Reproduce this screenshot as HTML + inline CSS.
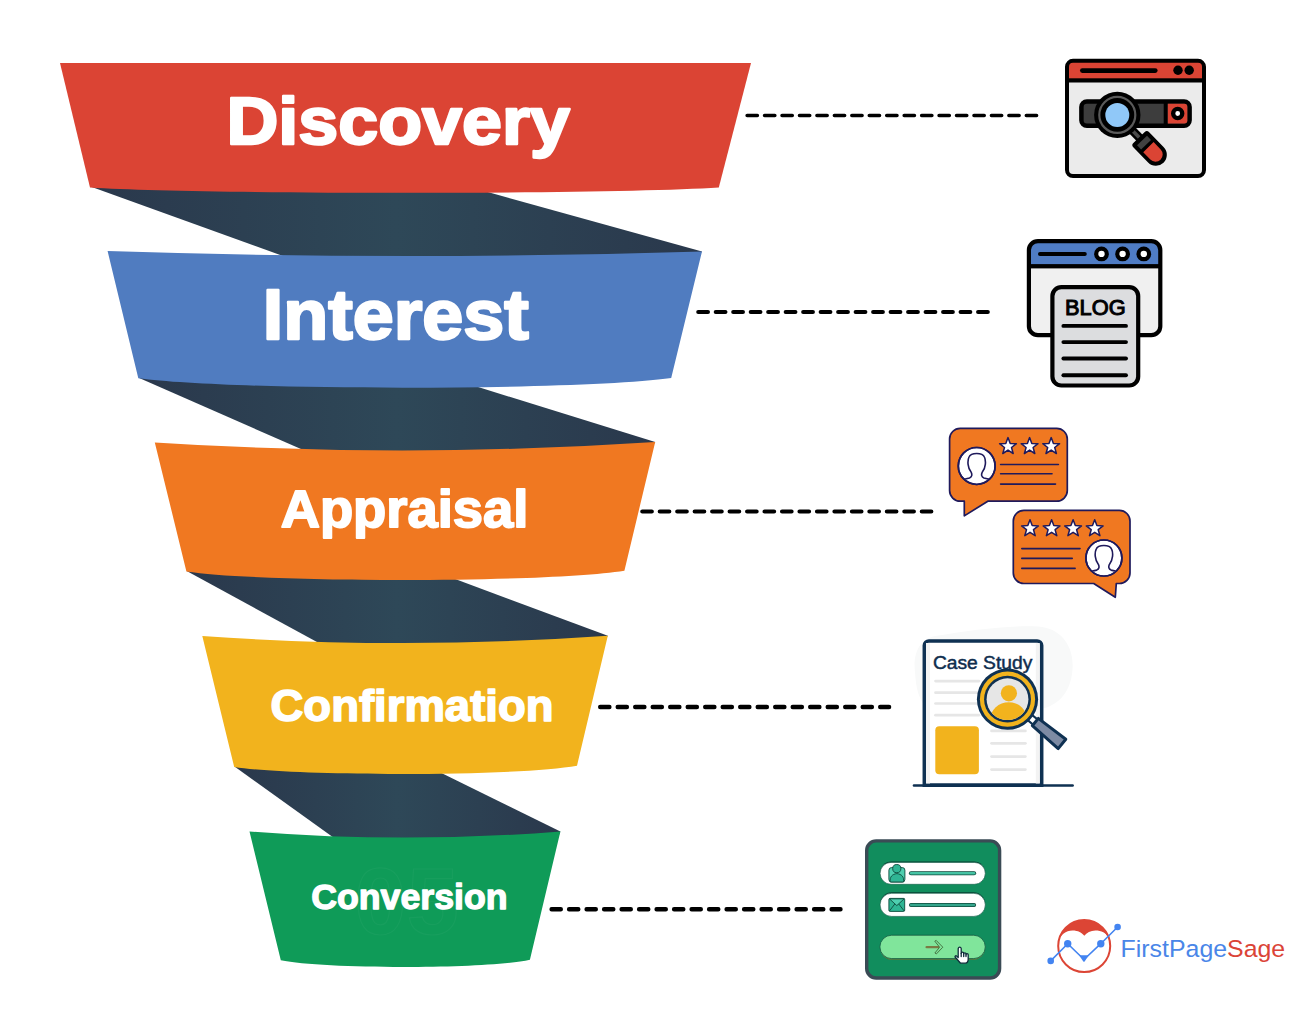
<!DOCTYPE html>
<html lang="en">
<head>
<meta charset="utf-8">
<title>Marketing Funnel Stages</title>
<style>
  html, body { margin: 0; padding: 0; background: #ffffff; }
  body { width: 1300px; height: 1020px; overflow: hidden; }
  svg { display: block; }
  text { font-family: "Liberation Sans", sans-serif; }
  .band { font-weight: 700; fill: #ffffff; text-anchor: middle; }
  .dash { stroke: #000000; stroke-width: 4.4; stroke-linecap: round; stroke-dasharray: 9.2 8.3; fill: none; }
</style>
</head>
<body>
<svg width="1300" height="1020" viewBox="0 0 1300 1020">
  <defs>
    <linearGradient id="dk" x1="0" y1="0" x2="1" y2="0">
      <stop offset="0" stop-color="#2a384c"/>
      <stop offset="0.5" stop-color="#2e4858"/>
      <stop offset="1" stop-color="#2a384c"/>
    </linearGradient>
    <polygon id="star" points="0.0,-8.8 2.2,-3.0 8.4,-2.7 3.5,1.1 5.2,7.1 0.0,3.7 -5.2,7.1 -3.5,1.1 -8.4,-2.7 -2.2,-3.0"/>
  </defs>

  <!-- ============ FUNNEL ============ -->
  <g id="funnel">
    <!-- dark folds -->
    <polygon fill="url(#dk)" points="90.4,186.6 468,186.6 702,251.4 692,264 301,262.5"/>
    <polygon fill="url(#dk)" points="138.6,377.8 448.6,377.8 655.2,442 646,456 317,456"/>
    <polygon fill="url(#dk)" points="186.7,571 433.7,571 607.8,635.8 600,648 328,648"/>
    <polygon fill="url(#dk)" points="234.5,766.6 428.2,766.6 560.4,831.4 556,842 339.7,842"/>

    <!-- colour bands -->
    <path fill="#db4434" d="M60,63 L751,63 L718.8,187.5 C608.8,194.6 200,194.6 90,187.5 Z"/>
    <path fill="#507cc0" d="M107.6,251.1 Q404.8,260.8 702,251.4 L671.2,378 C578.2,390.9 231.3,390.9 138.3,378.3 Z"/>
    <path fill="#f07821" d="M154.8,442.4 Q405,458.6 655.2,442 L624.4,570.7 C547.4,583 263.4,583 186.4,571.4 Z"/>
    <path fill="#f2b31d" d="M202.3,636 Q405,650.1 607.8,635.8 L577,765.7 C517,776.5 294.2,776.5 234.2,767 Z"/>
    <path fill="#0f9b58" d="M249.5,831.4 Q405,843.8 560.4,831.4 L529.9,959.8 C485.9,969.3 324.8,969.3 280.8,960.3 Z"/>

    <text x="406.5" y="934" font-size="94" font-weight="700" text-anchor="middle" fill="none" stroke="#ffffff" stroke-opacity="0.035" stroke-width="1.2">05</text>
    <!-- labels -->
    <g stroke="#ffffff" stroke-linejoin="round" paint-order="stroke fill">
    <text class="band" x="398.2" y="143.6" font-size="67" stroke-width="2.4" textLength="343.4" lengthAdjust="spacingAndGlyphs">Discovery</text>
    <text class="band" x="395.8" y="338.8" font-size="69.8" stroke-width="2.4" textLength="266.2" lengthAdjust="spacingAndGlyphs">Interest</text>
    <text class="band" x="404.5" y="526.6" font-size="51" stroke-width="1.8" textLength="247.6" lengthAdjust="spacingAndGlyphs">Appraisal</text>
    <text class="band" x="412" y="720.5" font-size="44.5" stroke-width="1.6" textLength="283" lengthAdjust="spacingAndGlyphs">Confirmation</text>
    <text class="band" x="409.4" y="909.4" font-size="35.5" stroke-width="1.3" textLength="196.4" lengthAdjust="spacingAndGlyphs">Conversion</text>
    </g>
  </g>

  <!-- ============ DASHED CONNECTORS ============ -->
  <g id="connectors">
    <line class="dash" x1="747.1" y1="115.4" x2="1037" y2="115.4" style="stroke-width:3.5;stroke-dasharray:10.3 7.15"/>
    <line class="dash" x1="698.2" y1="312" x2="988" y2="312" style="stroke-width:4;stroke-dasharray:9.8 7.69"/>
    <line class="dash" x1="642.3" y1="511.5" x2="931.3" y2="511.5" style="stroke-width:4.2;stroke-dasharray:9.5 7.97"/>
    <line class="dash" x1="600.2" y1="707" x2="889.1" y2="707"/>
    <line class="dash" x1="551.6" y1="909.3" x2="840.5" y2="909.3"/>
  </g>

  <!-- ============ ICON 1 : browser search ============ -->
  <g id="icon-discovery">
    <clipPath id="c1"><rect x="1067" y="60.8" width="137" height="115.2" rx="6"/></clipPath>
    <g clip-path="url(#c1)">
      <rect x="1060" y="55" width="150" height="26" fill="#db4434"/>
      <rect x="1060" y="80.4" width="150" height="100" fill="#ebebeb"/>
      <rect x="1060" y="78.3" width="150" height="4.2" fill="#000"/>
    </g>
    <rect x="1067" y="60.8" width="137" height="115.2" rx="6" fill="none" stroke="#000" stroke-width="4"/>
    <line x1="1082.3" y1="70.6" x2="1155.3" y2="70.6" stroke="#000" stroke-width="4.6" stroke-linecap="round"/>
    <circle cx="1178" cy="70.3" r="4.7" fill="#000"/>
    <circle cx="1189.2" cy="70.3" r="4.7" fill="#000"/>
    <!-- search bar -->
    <rect x="1081.4" y="101.5" width="108.2" height="24.3" rx="5.5" fill="#3d3d3d" stroke="#000" stroke-width="4.5"/>
    <path d="M1167.6,103.8 H1184.3 a3,3 0 0 1 3,3 V120.5 a3,3 0 0 1 -3,3 H1167.6 Z" fill="#db4434"/>
    <rect x="1163.7" y="101.5" width="3.9" height="24.3" fill="#000"/>
    <circle cx="1177.7" cy="113.5" r="4.55" fill="#fff" stroke="#000" stroke-width="4.3"/>
    <!-- magnifier -->
    <g transform="translate(1117.3 114.9) rotate(46)">
      <rect x="20" y="-4.3" width="14" height="8.6" fill="#000"/>
      <rect x="20" y="-1.8" width="14" height="3.6" fill="#4a4a4a"/>
      <path d="M34.3,-10.9 H55.6 a10.9,10.9 0 0 1 0,21.8 H34.3 a3,3 0 0 1 -3,-3 V-7.9 a3,3 0 0 1 3,-3 Z" fill="#000"/>
      <rect x="35.6" y="-6.9" width="5.8" height="13.8" fill="#414141"/>
      <path d="M44.8,-7.2 H55 a7.2,7.2 0 0 1 0,14.4 H44.8 Z" fill="#db4434"/>
    </g>
    <circle cx="1117.3" cy="114.9" r="23.2" fill="#000"/>
    <circle cx="1117.3" cy="114.9" r="18" fill="none" stroke="#5a5a5a" stroke-width="2.2"/>
    <circle cx="1117.3" cy="114.9" r="12" fill="#90c8f8"/>
  </g>

  <!-- ============ ICON 2 : blog ============ -->
  <g id="icon-blog">
    <clipPath id="c2"><rect x="1028.9" y="241.1" width="131.4" height="94.1" rx="9"/></clipPath>
    <g clip-path="url(#c2)">
      <rect x="1020" y="235" width="150" height="32" fill="#4f7cc4"/>
      <rect x="1020" y="266" width="150" height="75" fill="#f0f0f0"/>
      <rect x="1020" y="264.1" width="150" height="4.3" fill="#000"/>
    </g>
    <rect x="1028.9" y="241.1" width="131.4" height="94.1" rx="9" fill="none" stroke="#000" stroke-width="4.2"/>
    <line x1="1040" y1="253.9" x2="1084.8" y2="253.9" stroke="#000" stroke-width="4" stroke-linecap="round"/>
    <circle cx="1101.5" cy="253.9" r="5.3" fill="#fff" stroke="#000" stroke-width="4.2"/>
    <circle cx="1122.6" cy="253.9" r="5.3" fill="#fff" stroke="#000" stroke-width="4.2"/>
    <circle cx="1143.8" cy="253.9" r="5.3" fill="#fff" stroke="#000" stroke-width="4.2"/>
    <rect x="1052.4" y="287.1" width="85.8" height="98.4" rx="9" fill="#dcdddf" stroke="#000" stroke-width="4.2"/>
    <text x="1095.3" y="315.3" font-size="21.4" text-anchor="middle" fill="#000" stroke="#000" stroke-width="1" textLength="60.6" lengthAdjust="spacingAndGlyphs">BLOG</text>
    <g stroke="#000" stroke-width="3.9" stroke-linecap="round">
      <line x1="1063.4" y1="325.9" x2="1126" y2="325.9"/>
      <line x1="1063.4" y1="342.1" x2="1126" y2="342.1"/>
      <line x1="1063.4" y1="358.5" x2="1126" y2="358.5"/>
      <line x1="1063.4" y1="375.3" x2="1126" y2="375.3"/>
    </g>
  </g>

  <!-- ============ ICON 3 : reviews ============ -->
  <g id="icon-appraisal" stroke="#1f1a5c" stroke-width="1.7" stroke-linejoin="round">
    <!-- bubble 1 -->
    <path fill="#f07821" d="M960.2,428.4 H1056.7 a10.6,10.6 0 0 1 10.6,10.6 V490.6 a10.6,10.6 0 0 1 -10.6,10.6 H987.8 L964.3,515.9 V501.2 H960.2 a10.6,10.6 0 0 1 -10.6,-10.6 V439 a10.6,10.6 0 0 1 10.6,-10.6 Z"/>
    <clipPath id="av1"><circle cx="976.7" cy="465.9" r="17.8"/></clipPath>
    <circle cx="976.7" cy="465.9" r="18.4" fill="#fff"/>
    <g clip-path="url(#av1)" fill="#fff" stroke-width="1.6">
      <path d="M955,492 C956,481 962,479.5 969.5,478 C972,477 972.3,474.5 971.2,472.3 C967.5,468 967.3,460.5 969,457 C971,452.3 982.4,452.3 984.4,457 C986.1,460.5 985.9,468 982.2,472.3 C981.1,474.5 981.4,477 983.9,478 C991.4,479.5 997.4,481 998.4,492 Z"/>
    </g>
    <circle cx="976.7" cy="465.9" r="18.4" fill="none"/>
    <g fill="#fff" stroke-width="1.5">
      <use href="#star" x="1008" y="446.4"/>
      <use href="#star" x="1029.6" y="446.4"/>
      <use href="#star" x="1051.2" y="446.4"/>
    </g>
    <g stroke-width="1.6" stroke-linecap="round">
      <line x1="1000.6" y1="464.5" x2="1058.4" y2="464.5"/>
      <line x1="1000.6" y1="473.8" x2="1052" y2="473.8"/>
      <line x1="1000.6" y1="484.1" x2="1055.5" y2="484.1"/>
    </g>
    <!-- bubble 2 -->
    <path fill="#f07821" d="M1023.9,510.4 H1119.4 a10.6,10.6 0 0 1 10.6,10.6 V572.9 a10.6,10.6 0 0 1 -10.6,10.6 H1116.3 L1115.3,597.3 L1093.7,583.5 H1023.9 a10.6,10.6 0 0 1 -10.6,-10.6 V521 a10.6,10.6 0 0 1 10.6,-10.6 Z"/>
    <clipPath id="av2"><circle cx="1103.9" cy="558" r="17.4"/></clipPath>
    <circle cx="1103.9" cy="558" r="18" fill="#fff"/>
    <g clip-path="url(#av2)" fill="#fff" stroke-width="1.6"><g transform="translate(127.2 92.1)">
      <path d="M955,492 C956,481 962,479.5 969.5,478 C972,477 972.3,474.5 971.2,472.3 C967.5,468 967.3,460.5 969,457 C971,452.3 982.4,452.3 984.4,457 C986.1,460.5 985.9,468 982.2,472.3 C981.1,474.5 981.4,477 983.9,478 C991.4,479.5 997.4,481 998.4,492 Z"/>
    </g></g>
    <circle cx="1103.9" cy="558" r="18" fill="none"/>
    <g fill="#fff" stroke-width="1.5">
      <use href="#star" x="1030" y="528.6"/>
      <use href="#star" x="1051.6" y="528.6"/>
      <use href="#star" x="1073.1" y="528.6"/>
      <use href="#star" x="1094.7" y="528.6"/>
    </g>
    <g stroke-width="1.6" stroke-linecap="round">
      <line x1="1021.8" y1="548.6" x2="1080" y2="548.6"/>
      <line x1="1021.8" y1="558.4" x2="1072.2" y2="558.4"/>
      <line x1="1021.8" y1="568.4" x2="1075.1" y2="568.4"/>
    </g>
  </g>

  <!-- ============ ICON 4 : case study ============ -->
  <g id="icon-case">
    <path d="M915,672 C913,655 918,640 935,636 C970,630 1010,625 1038,626.5 C1062,628 1076,648 1072,674 C1069,694 1058,704 1045,708 L1000,712 L930,712 C918,700 916,688 915,672 Z" fill="#f8f9f9"/>
    <path d="M924.4,785.2 V645.5 a4.5,4.5 0 0 1 4.5,-4.5 H1037.1 a4.5,4.5 0 0 1 4.5,4.5 V785.2 Z" fill="#ffffff" stroke="#0f3152" stroke-width="3.7"/>
    <rect x="926" y="643" width="4" height="140.5" fill="#f3f3f3"/>
    <rect x="1035.8" y="643" width="4" height="140.5" fill="#f3f3f3"/>
    <line x1="914" y1="785.5" x2="1072.6" y2="785.5" stroke="#0f3152" stroke-width="2.6" stroke-linecap="round"/>
    <text x="932.9" y="669.4" font-size="18.3" fill="#0f2d4e" stroke="#0f2d4e" stroke-width="0.45" textLength="99.4" lengthAdjust="spacingAndGlyphs">Case Study</text>
    <g stroke="#e6e6e6" stroke-width="2.7" stroke-linecap="round">
      <line x1="935.5" y1="681.1" x2="979" y2="681.1"/>
      <line x1="935.5" y1="692.7" x2="979" y2="692.7"/>
      <line x1="935.5" y1="703.5" x2="979" y2="703.5"/>
      <line x1="935.5" y1="715.2" x2="979" y2="715.2"/>
      <line x1="991.5" y1="730.9" x2="1025.4" y2="730.9"/>
      <line x1="991.5" y1="743.3" x2="1025.4" y2="743.3"/>
      <line x1="991.5" y1="756.6" x2="1025.4" y2="756.6"/>
      <line x1="991.5" y1="769.6" x2="1025.4" y2="769.6"/>
    </g>
    <rect x="935.3" y="726.2" width="43.6" height="48.1" rx="4" fill="#f2b31d"/>
    <!-- magnifier -->
    <g transform="translate(1007.5 699.2) rotate(39.4)">
      <rect x="27" y="-3.4" width="11" height="6.8" fill="#ffffff" stroke="#0f3152" stroke-width="2.2"/>
      <path d="M36,-4.7 L70.5,-6 V6 L36,4.7 Z" fill="#7d8ba4" stroke="#0f3152" stroke-width="3" stroke-linejoin="round"/>
    </g>
    <circle cx="1007.5" cy="699.2" r="30.6" fill="#0f3152"/>
    <circle cx="1007.5" cy="699.2" r="27.6" fill="#f2b31d"/>
    <circle cx="1007.5" cy="699.2" r="23.4" fill="#0f3152"/>
    <circle cx="1007.5" cy="699.2" r="20.9" fill="#e6e6e6"/>
    <clipPath id="lens"><circle cx="1007.5" cy="699.2" r="20.9"/></clipPath>
    <g clip-path="url(#lens)" fill="#f2b31d">
      <circle cx="1008.9" cy="693.3" r="8.1"/>
      <ellipse cx="1008.7" cy="719.2" rx="18.3" ry="17"/>
    </g>
  </g>

  <!-- ============ ICON 5 : sign-up form ============ -->
  <g id="icon-conversion">
    <rect x="866.7" y="840.9" width="132.9" height="137.1" rx="9.5" fill="#118d5d" stroke="#3a4b55" stroke-width="3.4"/>
    <!-- fields -->
    <rect x="880.1" y="861.4" width="105.2" height="22.7" rx="11.35" fill="#0a3f33"/>
    <rect x="880.1" y="862.4" width="105.2" height="21.9" rx="10.95" fill="#ffffff" stroke="#0d5a44" stroke-width="0.6"/>
    <rect x="880.1" y="892.3" width="105.2" height="23.9" rx="11.9" fill="#0a3f33"/>
    <rect x="880.1" y="893.3" width="105.2" height="23.1" rx="11.5" fill="#ffffff" stroke="#0d5a44" stroke-width="0.6"/>
    <!-- user glyph -->
    <g stroke="#0d4a3c" stroke-width="0.9" stroke-linejoin="round">
      <rect x="888.9" y="867.6" width="16" height="14.4" rx="2.6" fill="#4fcfb0"/>
      <path d="M890.2,882 C889.6,877 892,874.2 896.9,873.6 C901.8,874.2 904.2,877 903.6,882 Z" fill="#2fb594"/>
      <circle cx="896.8" cy="868.6" r="4.1" fill="#2fb594"/>
    </g>
    <line x1="911" y1="873.2" x2="974.1" y2="873.2" stroke="#0d4a3c" stroke-width="4.1" stroke-linecap="round"/>
    <line x1="911" y1="873.2" x2="974.1" y2="873.2" stroke="#45c3a4" stroke-width="2.4" stroke-linecap="round"/>
    <!-- envelope glyph -->
    <g stroke="#0d4a3c" stroke-width="0.9" stroke-linejoin="round">
      <rect x="888.9" y="898.4" width="15.8" height="13" rx="1.2" fill="#2fb594"/>
      <path d="M889.4,898.8 L896.8,905.6 L904.2,898.8 Z" fill="#4fcfb0"/>
      <path d="M889.4,911 L894.8,904 M904.2,911 L898.8,904" fill="none"/>
    </g>
    <line x1="911" y1="905" x2="974.1" y2="905" stroke="#0d4a3c" stroke-width="4" stroke-linecap="round"/>
    <line x1="911" y1="905" x2="974.1" y2="905" stroke="#34a58c" stroke-width="2.3" stroke-linecap="round"/>
    <!-- button -->
    <rect x="879.9" y="935.2" width="105.4" height="24.6" rx="12.3" fill="#6b7438"/>
    <rect x="879.9" y="935.2" width="105.4" height="23.4" rx="11.7" fill="#80e59b" stroke="#0d5a44" stroke-width="0.8"/>
    <line x1="926.6" y1="947.2" x2="938.5" y2="947.2" stroke="#7b7a44" stroke-width="2.3" stroke-linecap="round"/>
    <path d="M934.8,941.2 L936.2,940.4 L942.8,947.2 L936.4,953.9 L934.9,953 L939.6,947.2 Z" fill="#80e59b" stroke="#3f6a3a" stroke-width="0.9" stroke-linejoin="round"/>
    <!-- hand cursor -->
    <g transform="translate(954.4 946.4)" stroke="#0f2d3a" stroke-width="1.3" stroke-linejoin="round" stroke-linecap="round">
      <path fill="#ffffff" d="M3.8,11.2 V2.3 a1.5,1.5 0 0 1 3,0 V7 a1.25,1.25 0 0 1 2.5,0 V7.6 a1.15,1.15 0 0 1 2.3,0 V8.4 a1.1,1.1 0 0 1 2.2,0 V12.5 C13.8,15 12.5,16.6 11,16.8 H6.2 C4.5,15 2.5,12.6 0.8,10.9 C0.2,9.9 1.3,8.9 2.2,9.7 Z"/>
      <path fill="none" d="M6.8,7 V10.2 M9.3,7.6 V10.2 M11.6,8.4 V10.2"/>
    </g>
  </g>

  <!-- ============ LOGO ============ -->
  <g id="logo">
    <clipPath id="lc"><circle cx="1084.2" cy="946.1" r="26"/></clipPath>
    <g clip-path="url(#lc)">
      <path d="M1050,915 H1120 V942 L1108.6,937 C1106,933 1101.5,930.4 1095.4,930.4 C1090.6,930.4 1086.6,932.5 1084.3,935.8 C1082,932.5 1078,930.4 1072.5,930.4 C1065.5,930.4 1060.5,935 1057.8,941.2 L1050,950 Z" fill="#dc4535"/>
    </g>
    <circle cx="1084.2" cy="946.1" r="26" fill="none" stroke="#dc4535" stroke-width="2"/>
    <polyline points="1050.7,960.9 1067.7,943.7 1084,959.5 1100.8,943.7 1117.6,927" fill="none" stroke="#4384f1" stroke-width="1.6" stroke-linejoin="round"/>
    <g fill="#4384f1">
      <circle cx="1050.7" cy="960.9" r="3.3"/>
      <circle cx="1067.7" cy="943.7" r="3.7"/>
      <circle cx="1100.8" cy="943.7" r="3.7"/>
      <circle cx="1117.6" cy="927" r="3.3"/>
      <path d="M1079.2,955.2 H1088.8 L1084.6,961.4 a0.9,0.9 0 0 1 -1.3,0 Z"/>
    </g>
    <text x="1120.6" y="957.1" font-size="24.5" textLength="164.6" lengthAdjust="spacingAndGlyphs"><tspan fill="#4a86e8">FirstPage</tspan><tspan fill="#db4437">Sage</tspan></text>
  </g>
</svg>
</body>
</html>
